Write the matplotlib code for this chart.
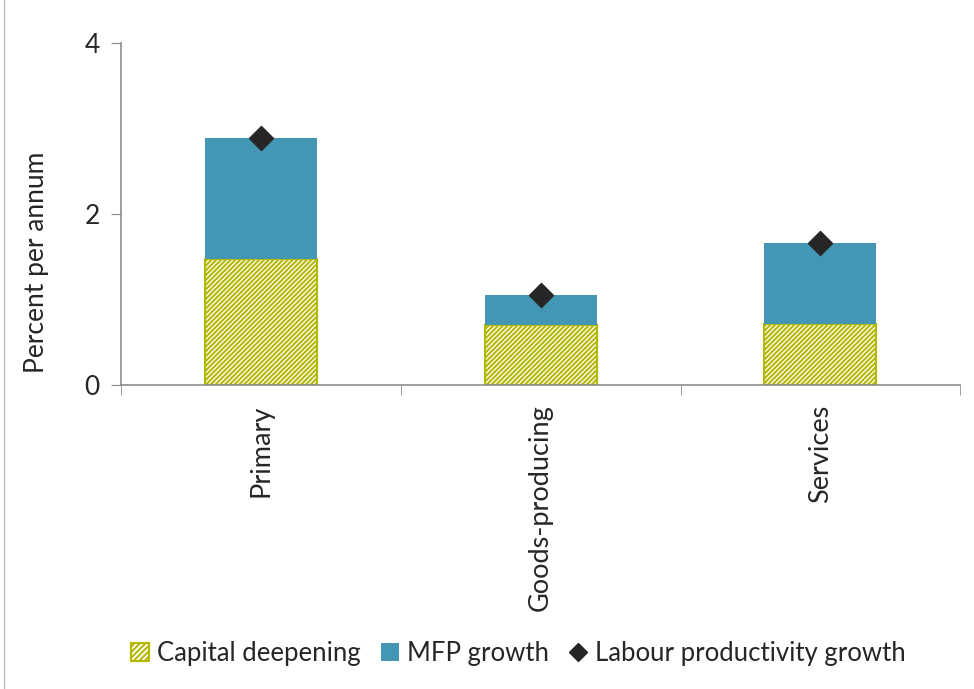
import numpy as np
import matplotlib.pyplot as plt
from matplotlib.patches import Patch
from matplotlib.lines import Line2D

plt.rcParams['font.family'] = ['Lato', 'DejaVu Sans']
plt.rcParams['hatch.linewidth'] = 1.5

sectors = ['Primary', 'Goods-producing', 'Services']
capital_deepening = [1.47, 0.70, 0.72]
mfp_growth = [1.42, 0.35, 0.94]
labour_productivity = [2.89, 1.05, 1.66]

cap_color = '#b3b800'
mfp_color = '#4396b4'
grey = '#8c8c8c'
text_col = '#262626'

fig = plt.figure(figsize=(9.74, 6.89), dpi=100)
ax = fig.add_axes([0.124, 0.441, 0.862, 0.497])

x = np.arange(len(sectors))
w = 0.4
ax.bar(x, capital_deepening, w, color='white', edgecolor=cap_color,
       hatch='///////', linewidth=1.5)
ax.bar(x, mfp_growth, w, bottom=capital_deepening, color=mfp_color,
       edgecolor='none')
ax.scatter(x, labour_productivity, marker='D', s=150, color=text_col, zorder=5)

ax.set_xlim(-0.5, len(sectors) - 0.5)
ax.set_ylim(0, 4)
ax.set_yticks([0, 2, 4])
ax.set_yticklabels(['0', '2', '4'], fontsize=19, color=text_col)
ax.set_ylabel('Percent per annum', fontsize=19, color=text_col)
ax.yaxis.set_label_coords(-0.085, 0.36)

# category labels in the middle, ticks between categories
ax.set_xticks(x)
ax.set_xticklabels(sectors, rotation=90, fontsize=19.5, color=text_col)
ax.tick_params(axis='x', length=0, pad=14)
ax.set_xticks(np.arange(-0.5, len(sectors)), minor=True)
ax.tick_params(axis='x', which='minor', length=7, color=grey, direction='out')
ax.tick_params(axis='y', length=7, color=grey, direction='out', pad=8)

for s in ['top', 'right']:
    ax.spines[s].set_visible(False)
for s in ['left', 'bottom']:
    ax.spines[s].set_color(grey)
    ax.spines[s].set_linewidth(1.2)

handles = [
    Patch(facecolor='white', edgecolor=cap_color, hatch='//////', linewidth=1.5),
    Patch(facecolor=mfp_color, edgecolor='none'),
    Line2D([], [], marker='D', linestyle='none', color=text_col, markersize=9),
]
fig.legend(handles, ['Capital deepening', 'MFP growth', 'Labour productivity growth'],
           loc='center', bbox_to_anchor=(0.532, 0.052), ncol=3, frameon=False,
           fontsize=18.5, handlelength=0.7, handleheight=0.7, handletextpad=0.3,
           columnspacing=0.8, labelcolor=text_col)

fig.add_artist(Line2D([0.004, 0.004], [0, 1], color='#bfbfbf', linewidth=1,
                      transform=fig.transFigure))

fig.savefig('out.png', dpi=100)
